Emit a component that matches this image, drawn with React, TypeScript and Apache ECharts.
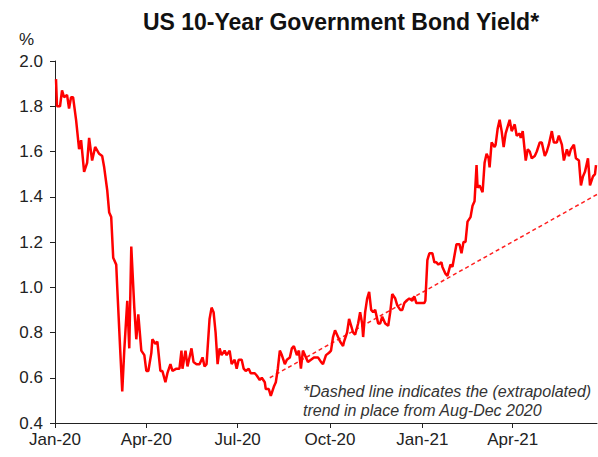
import React, { useEffect, useRef } from "react";
import * as echarts from "echarts";

const dates: string[] = [
  "2020-01-02","2020-01-03","2020-01-06","2020-01-08","2020-01-10","2020-01-13","2020-01-15","2020-01-17","2020-01-19","2020-01-22",
  "2020-01-25","2020-01-27","2020-01-30","2020-02-02","2020-02-04","2020-02-07","2020-02-10","2020-02-14","2020-02-17","2020-02-19",
  "2020-02-22","2020-02-24","2020-02-26","2020-02-28","2020-03-02","2020-03-03","2020-03-06","2020-03-08","2020-03-10","2020-03-13",
  "2020-03-15","2020-03-17","2020-03-20","2020-03-22","2020-03-24","2020-03-27","2020-03-30","2020-04-01","2020-04-03","2020-04-06",
  "2020-04-07","2020-04-10","2020-04-12","2020-04-15","2020-04-17","2020-04-20","2020-04-22","2020-04-25","2020-04-27","2020-05-01",
  "2020-05-04","2020-05-06","2020-05-07","2020-05-10","2020-05-12","2020-05-16","2020-05-18","2020-05-21","2020-05-24","2020-05-27",
  "2020-05-29","2020-05-31","2020-06-03","2020-06-05","2020-06-07","2020-06-09","2020-06-11","2020-06-13","2020-06-15","2020-06-18",
  "2020-06-20","2020-06-23","2020-06-25","2020-06-28","2020-06-30","2020-07-02","2020-07-05","2020-07-07","2020-07-09","2020-07-12",
  "2020-07-14","2020-07-18","2020-07-20","2020-07-23","2020-07-25","2020-07-28","2020-07-29","2020-08-01","2020-08-03","2020-08-06",
  "2020-08-08","2020-08-10","2020-08-12","2020-08-14","2020-08-17","2020-08-19","2020-08-22","2020-08-24","2020-08-26","2020-08-29",
  "2020-08-31","2020-09-02","2020-09-04","2020-09-06","2020-09-09","2020-09-12","2020-09-15","2020-09-19","2020-09-22","2020-09-24",
  "2020-09-27","2020-09-30","2020-10-02","2020-10-04","2020-10-06","2020-10-09","2020-10-11","2020-10-14","2020-10-15","2020-10-18",
  "2020-10-20","2020-10-22","2020-10-24","2020-10-26","2020-10-29","2020-10-31","2020-11-02","2020-11-03","2020-11-05","2020-11-07",
  "2020-11-09","2020-11-11","2020-11-13","2020-11-15","2020-11-18","2020-11-20","2020-11-22","2020-11-25","2020-11-28","2020-11-30",
  "2020-12-02","2020-12-05","2020-12-07","2020-12-10","2020-12-12","2020-12-14","2020-12-16","2020-12-19","2020-12-22","2020-12-24",
  "2020-12-26","2020-12-29","2020-12-31","2021-01-03","2021-01-04","2021-01-06","2021-01-08","2021-01-11","2021-01-13","2021-01-15",
  "2021-01-17","2021-01-20","2021-01-21","2021-01-24","2021-01-26","2021-01-29","2021-01-31","2021-02-02","2021-02-04","2021-02-07",
  "2021-02-09","2021-02-11","2021-02-13","2021-02-15","2021-02-18","2021-02-20","2021-02-22","2021-02-24","2021-02-25","2021-02-27",
  "2021-03-02","2021-03-04","2021-03-06","2021-03-08","2021-03-09","2021-03-11","2021-03-14","2021-03-15","2021-03-17","2021-03-19",
  "2021-03-21","2021-03-23","2021-03-25","2021-03-29","2021-03-31","2021-04-03","2021-04-05","2021-04-08","2021-04-09","2021-04-11",
  "2021-04-14","2021-04-16","2021-04-18","2021-04-20","2021-04-23","2021-04-25","2021-04-28","2021-04-30","2021-05-03","2021-05-05",
  "2021-05-07","2021-05-10","2021-05-12","2021-05-15","2021-05-17","2021-05-20","2021-05-22","2021-05-25","2021-05-27","2021-05-29",
  "2021-06-01","2021-06-03","2021-06-06","2021-06-08","2021-06-10","2021-06-12","2021-06-15","2021-06-17","2021-06-20","2021-06-22",
  "2021-06-23"
];

const yields: number[] = [
  1.92,1.80,1.80,1.87,1.84,1.85,1.79,1.84,1.84,1.74,
  1.61,1.65,1.51,1.55,1.66,1.56,1.62,1.59,1.58,1.53,
  1.43,1.33,1.31,1.13,1.10,1.00,0.72,0.54,0.72,0.94,
  0.73,1.18,0.91,0.77,0.88,0.72,0.70,0.63,0.63,0.71,
  0.77,0.75,0.76,0.63,0.63,0.58,0.62,0.66,0.63,0.64,
  0.64,0.72,0.64,0.72,0.65,0.73,0.67,0.66,0.66,0.69,
  0.65,0.66,0.86,0.91,0.89,0.80,0.66,0.73,0.70,0.72,
  0.70,0.72,0.66,0.68,0.64,0.68,0.68,0.64,0.63,0.64,
  0.62,0.62,0.61,0.59,0.60,0.58,0.55,0.55,0.52,0.56,
  0.58,0.64,0.72,0.70,0.66,0.68,0.69,0.73,0.74,0.70,
  0.72,0.64,0.72,0.70,0.67,0.68,0.69,0.69,0.67,0.66,
  0.70,0.71,0.72,0.78,0.81,0.78,0.76,0.74,0.76,0.80,
  0.86,0.83,0.80,0.79,0.84,0.89,0.84,0.78,0.89,0.95,
  0.98,0.90,0.89,0.90,0.84,0.84,0.87,0.84,0.83,0.89,
  0.97,0.95,0.92,0.90,0.90,0.93,0.94,0.95,0.94,0.96,
  0.93,0.93,0.93,0.93,0.94,1.12,1.15,1.15,1.11,1.11,
  1.10,1.11,1.09,1.06,1.05,1.10,1.09,1.14,1.19,1.19,
  1.15,1.20,1.20,1.29,1.31,1.36,1.38,1.54,1.44,1.45,
  1.42,1.55,1.59,1.57,1.53,1.64,1.62,1.63,1.70,1.74,
  1.69,1.62,1.68,1.74,1.69,1.72,1.67,1.68,1.66,1.69,
  1.56,1.61,1.60,1.57,1.58,1.60,1.64,1.64,1.58,1.60,
  1.63,1.69,1.64,1.64,1.67,1.63,1.56,1.61,1.58,1.61,
  1.63,1.57,1.56,1.45,1.49,1.51,1.57,1.45,1.49,1.50,
  1.54
];

const trendDates: string[] = ["2020-08-02", "2021-06-24"];
const trendValues: number[] = [0.6, 1.41];

const tickDates: string[] = ["2020-01-01", "2020-04-01", "2020-07-01", "2020-10-01", "2021-01-01", "2021-04-01"];
const tickLabels: string[] = ["Jan-20", "Apr-20", "Jul-20", "Oct-20", "Jan-21", "Apr-21"];

const axisStart = "2020-01-01";
const axisEnd = "2021-06-24";

function ts(s: string): number {
  const [y, m, d] = s.split("-").map(Number);
  return new Date(y, m - 1, d).getTime();
}

const FONT = "'Liberation Sans', Arial, sans-serif";

export default function App() {
  const ref = useRef<HTMLDivElement>(null);
  useEffect(() => {
    if (!ref.current) return;
    const chart = echarts.init(ref.current, undefined, { renderer: "svg" });
    const tickTs = tickDates.map(ts);
    const option: any = {
      animation: false,
      backgroundColor: "#ffffff",
      grid: { left: 55, right: 1, top: 61, bottom: 34, containLabel: false },
      xAxis: {
        type: "value",
        min: ts(axisStart),
        max: ts(axisEnd),
        axisLine: { show: true, lineStyle: { color: "#222", width: 1 } },
        axisTick: { show: true, customValues: tickTs, length: 5, lineStyle: { color: "#222" } },
        axisLabel: {
          customValues: tickTs,
          color: "#222",
          fontFamily: FONT,
          fontSize: 17,
          margin: 8,
          formatter: (v: number) => {
            const i = tickTs.indexOf(v);
            return i >= 0 ? tickLabels[i] : "";
          },
        },
        splitLine: { show: false },
      },
      yAxis: {
        type: "value",
        min: 0.4,
        max: 2.0,
        interval: 0.2,
        axisLine: { show: true, lineStyle: { color: "#222", width: 1 } },
        axisTick: { show: true, length: 5, lineStyle: { color: "#222" } },
        axisLabel: {
          color: "#222",
          fontFamily: FONT,
          fontSize: 17,
          margin: 12,
          formatter: (v: number) => v.toFixed(1),
        },
        splitLine: { show: false },
      },
      series: [
        {
          type: "line",
          data: dates.map((d, i) => [ts(d), yields[i]]),
          showSymbol: false,
          lineStyle: { color: "#ff0000", width: 2.5 },
          z: 3,
        },
        {
          type: "line",
          data: trendDates.map((d, i) => [ts(d), trendValues[i]]),
          showSymbol: false,
          lineStyle: { color: "#ff2020", width: 1.5, type: [4, 3] },
          z: 2,
        },
      ],
      graphic: [
        {
          type: "text",
          x: 341,
          y: 10,
          style: {
            text: "US 10-Year Government Bond Yield*",
            fill: "#111",
            font: `bold 23px ${FONT}`,
            textAlign: "center",
            textVerticalAlign: "top",
          },
        },
        {
          type: "text",
          left: 19,
          top: 31,
          style: { text: "%", fill: "#222", font: `17px ${FONT}` },
        },
        {
          type: "text",
          left: 303,
          top: 382,
          style: {
            text: "*Dashed line indicates the (extrapolated)\ntrend in place from Aug-Dec 2020",
            fill: "#333",
            font: `italic 16px ${FONT}`,
            lineHeight: 19,
          },
        },
      ],
    };
    chart.setOption(option);
    return () => chart.dispose();
  }, []);
  return (
    <div
      ref={ref}
      style={{ position: "fixed", left: 0, top: 0, width: 598, height: 457, background: "#fff" }}
    />
  );
}
